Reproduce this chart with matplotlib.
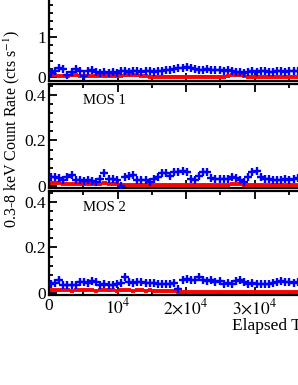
import numpy as np
import matplotlib
matplotlib.use("Agg")
import matplotlib.pyplot as plt
from matplotlib.ticker import MultipleLocator, FixedLocator, FixedFormatter

plt.rcParams["font.family"] = ["Liberation Serif", "DejaVu Serif"]
plt.rcParams["font.size"] = 12
plt.rcParams["mathtext.fontset"] = "stix"

# 600 s bins, centre times
bin_width = 600
n_bins = 62
t = np.arange(n_bins) * bin_width + bin_width / 2

pn_src = [0.11, 0.14, 0.22, 0.20, 0.05, 0.12, 0.19, 0.15, 0.02, 0.16,
          0.18, 0.12, 0.10, 0.12, 0.11, 0.13, 0.10, 0.14, 0.15, 0.13,
          0.15, 0.14, 0.12, 0.15, 0.14, 0.13, 0.15, 0.16, 0.17, 0.18,
          0.20, 0.22, 0.23, 0.25, 0.22, 0.19, 0.17, 0.18, 0.19, 0.18,
          0.17, 0.18, 0.16, 0.17, 0.15, 0.12, 0.13, 0.11, 0.12, 0.14,
          0.13, 0.14, 0.15, 0.13, 0.12, 0.14, 0.15, 0.13, 0.14, 0.16,
          0.15, 0.17]
pn_bkg = [0.04, 0.05, 0.03, 0.02, 0.03, 0.04, 0.05, 0.03, 0.02, 0.02,
          0.03, 0.02, 0.02, 0.02, 0.03, 0.02, 0.02, 0.03, 0.04, 0.05,
          0.05, 0.04, 0.03, 0.02, 0.01, 0.01, 0.01, 0.01, 0.01, 0.01,
          0.01, 0.01, 0.01, 0.01, 0.01, 0.01, 0.01, 0.01, 0.01, 0.01,
          0.01, 0.01, 0.01, 0.03, 0.05, 0.06, 0.04, 0.02, 0.01, 0.01,
          0.01, 0.01, 0.01, 0.01, 0.01, 0.01, 0.01, 0.01, 0.01, 0.01,
          0.01, 0.01]

mos1_src = [0.041, 0.040, 0.036, 0.027, 0.038, 0.049, 0.024, 0.025, 0.023, 0.025,
            0.022, 0.016, 0.030, 0.056, 0.030, 0.032, 0.024, 0.000, 0.040, 0.042,
            0.046, 0.027, 0.024, 0.024, 0.016, 0.030, 0.040, 0.056, 0.055, 0.045,
            0.060, 0.062, 0.064, 0.060, 0.030, 0.027, 0.045, 0.060, 0.062, 0.036,
            0.030, 0.032, 0.030, 0.030, 0.038, 0.035, 0.024, 0.016, 0.038, 0.062,
            0.064, 0.039, 0.030, 0.031, 0.024, 0.024, 0.027, 0.030, 0.028, 0.031,
            0.036, 0.040]
mos1_bkg = [0.012, 0.015, 0.013, 0.010, 0.009, 0.008, 0.008, 0.007, 0.008, 0.008,
            0.007, 0.008, 0.008, 0.012, 0.009, 0.008, 0.007, 0.004, 0.004, 0.003,
            0.004, 0.003, 0.004, 0.003, 0.003, 0.004, 0.003, 0.003, 0.004, 0.003,
            0.003, 0.003, 0.004, 0.003, 0.003, 0.003, 0.003, 0.004, 0.003, 0.003,
            0.003, 0.003, 0.003, 0.004, 0.007, 0.010, 0.009, 0.005, 0.003, 0.003,
            0.003, 0.003, 0.004, 0.003, 0.003, 0.003, 0.003, 0.003, 0.004, 0.003,
            0.003, 0.003]

mos2_src = [0.040, 0.045, 0.059, 0.033, 0.036, 0.034, 0.035, 0.048, 0.050, 0.045,
            0.053, 0.050, 0.036, 0.038, 0.035, 0.037, 0.040, 0.045, 0.069, 0.046,
            0.043, 0.050, 0.047, 0.042, 0.044, 0.045, 0.040, 0.038, 0.041, 0.039,
            0.042, 0.018, 0.057, 0.060, 0.058, 0.055, 0.069, 0.055, 0.052, 0.057,
            0.050, 0.054, 0.040, 0.042, 0.038, 0.052, 0.055, 0.050, 0.040, 0.042,
            0.038, 0.041, 0.039, 0.040, 0.043, 0.048, 0.054, 0.046, 0.050, 0.045,
            0.048, 0.047]
mos2_bkg = [0.012, 0.014, 0.011, 0.013, 0.012, 0.010, 0.013, 0.012, 0.011, 0.013,
            0.012, 0.010, 0.012, 0.013, 0.011, 0.012, 0.010, 0.012, 0.011, 0.012,
            0.010, 0.011, 0.012, 0.010, 0.011, 0.010, 0.009, 0.010, 0.009, 0.008,
            0.007, 0.005, 0.005, 0.004, 0.005, 0.005, 0.004, 0.005, 0.005, 0.004,
            0.005, 0.005, 0.004, 0.005, 0.005, 0.004, 0.005, 0.005, 0.004, 0.005,
            0.005, 0.004, 0.005, 0.005, 0.004, 0.005, 0.005, 0.004, 0.005, 0.005,
            0.004, 0.005]

panels = [
    ("pn", pn_src, pn_bkg, 0.03, (-0.1, 2.5), [0, 1], 0.2),
    ("MOS 1", mos1_src, mos1_bkg, 0.005, (-0.009, 0.448), [0, 0.2, 0.4], 0.04),
    ("MOS 2", mos2_src, mos2_bkg, 0.005, (-0.009, 0.448), [0, 0.2, 0.4], 0.04),
]

fig = plt.figure(figsize=(2.98, 3.85), dpi=100)
W, H = 298.0, 385.0
left = 49 / W
width = 411 / W
# (top px, bottom px) for each panel
rows = [(-23, 81), (84, 188), (191, 295)]

axes = []
for (name, src, bkg, berr, ylim, majors, minor), (ytop, ybot) in zip(panels, rows):
    ax = fig.add_axes([left, (H - ybot) / H, width, (ybot - ytop) / H])
    ax.errorbar(t, bkg, xerr=bin_width / 2, yerr=berr, fmt="none",
                ecolor="red", elinewidth=2.8, capsize=0, zorder=2)
    ax.plot(t, src, ls="none", marker="+", ms=5.8, mew=1.7, color="blue", zorder=3)
    ax.set_xlim(0, 6e4)
    ax.set_ylim(*ylim)
    ax.yaxis.set_major_locator(FixedLocator(majors))
    ax.yaxis.set_minor_locator(MultipleLocator(minor))
    ax.yaxis.set_major_formatter(plt.FuncFormatter(lambda v, p: "0" if abs(v) < 1e-9 else f"{v:g}"))
    ax.xaxis.set_major_locator(FixedLocator([0, 1e4, 2e4, 3e4]))
    ax.xaxis.set_minor_locator(MultipleLocator(5000))
    ax.tick_params(which="both", direction="in", top=True, right=True, width=1.3)
    ax.tick_params(which="major", length=6, labelsize=12.5, pad=2)
    ax.tick_params(which="minor", length=3)
    for s in ax.spines.values():
        s.set_linewidth(1.6)
    ax.annotate(name, xy=(0, 1), xycoords="axes fraction", xytext=(24.5, -12),
                textcoords="offset points", ha="left", va="center", fontsize=10.5)
    axes.append(ax)

for ax in axes[:-1]:
    ax.tick_params(labelbottom=False)

axes[-1].xaxis.set_major_formatter(FixedFormatter(
    ["0", "$10^4$", r"$2{\times}10^4$", r"$3{\times}10^4$"]))

fig.text(232 / W, 1 - 326 / H, "Elapsed Time (s)", ha="left", va="center", fontsize=12.5)
fig.text(12 / W, 1 - 129 / H, "0.3-8 keV Count Rate (cts s$^{-1}$)",
         rotation=90, ha="center", va="center", fontsize=11.5)

fig.savefig("out.png", dpi=100)
